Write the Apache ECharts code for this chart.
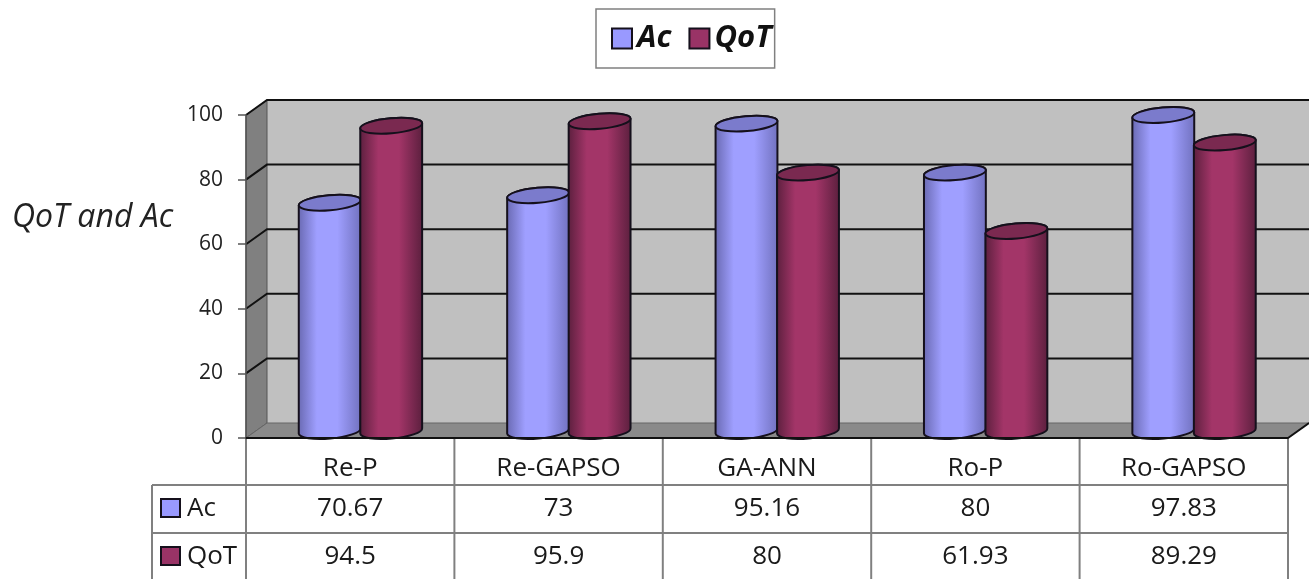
<!DOCTYPE html>
<html>
<head>
<meta charset="utf-8">
<style>html,body{margin:0;padding:0;background:#fff}#chart{width:1309px;height:579px}</style>
<script src="https://cdn.jsdelivr.net/npm/echarts@6/dist/echarts.min.js"></script>
</head>
<body>
<div id="chart"></div>
<script>
const categories = ['Re-P', 'Re-GAPSO', 'GA-ANN', 'Ro-P', 'Ro-GAPSO'];
const acValues = [70.67, 73, 95.16, 80, 97.83];
const qotValues = [94.5, 95.9, 80, 61.93, 89.29];
const yTicks = [0, 20, 40, 60, 80, 100];

const FONT = '"Open Sans", sans-serif';
const DEPTH_X = 21, DEPTH_Y = 15;      // offset of the back wall from the axis plane
const RY = 7.5, TILT = -5;             // cylinder cap ellipse

const chart = echarts.init(document.getElementById('chart'), null, { renderer: 'canvas' });

function hGradient(edgeL, mid, edgeR) {
  return new echarts.graphic.LinearGradient(0, 0, 1, 0, [
    { offset: 0, color: edgeL }, { offset: 0.3, color: mid },
    { offset: 0.62, color: mid }, { offset: 1, color: edgeR }
  ]);
}

// Side walls, floor and the grid lines that run across them
function renderRoom(params, api) {
  if (params.dataIndex !== 0) return;
  const c = params.coordSys;
  const x0 = c.x, x1 = c.x + c.width, yTop = c.y, yBase = c.y + c.height;
  const bx0 = x0 + DEPTH_X, bx1 = x1 + DEPTH_X;
  const children = [
    { type: 'polygon', shape: { points: [[bx0, yTop - DEPTH_Y], [bx1, yTop - DEPTH_Y], [bx1, yBase - DEPTH_Y], [bx0, yBase - DEPTH_Y]] },
      style: { fill: '#c0c0c0' } },
    { type: 'polygon', shape: { points: [[x0, yTop], [bx0, yTop - DEPTH_Y], [bx0, yBase - DEPTH_Y], [x0, yBase]] },
      style: { fill: '#808080', stroke: '#555', lineWidth: 1 } },
    { type: 'polygon', shape: { points: [[x0, yBase], [bx0, yBase - DEPTH_Y], [bx1, yBase - DEPTH_Y], [x1, yBase]] },
      style: { fill: '#8a8a8a', stroke: '#666', lineWidth: 1 } }
  ];
  yTicks.slice(1).forEach(v => {
    const y = api.coord([0, v])[1];
    children.push({ type: 'polyline',
      shape: { points: [[x0, y], [bx0, y - DEPTH_Y], [bx1, y - DEPTH_Y]] },
      style: { fill: null, stroke: '#111', lineWidth: 2 } });
  });
  children.push({ type: 'line', shape: { x1: x1, y1: yBase, x2: bx1, y2: yBase - DEPTH_Y },
    style: { stroke: '#111', lineWidth: 2 } });
  return { type: 'group', children };
}

function cylinderRenderer(side, body, capFill) {
  return function (params, api) {
    const cat = api.value(0);
    const band = api.size([1, 0])[0];
    const rx = band * 0.149;
    const base = api.coord([cat, 0]);
    const top = api.coord([cat, api.value(1)]);
    const cx = base[0] + DEPTH_X / 2 + (side < 0 ? -31 : 30.5) * band / 208.4;
    const by = base[1] - DEPTH_Y / 2 + 0.5;
    const ty = top[1] - DEPTH_Y / 2 + 0.5;
    const rad = TILT * Math.PI / 180;
    const dx = rx * Math.cos(rad), dy = rx * Math.sin(rad);
    const arc = `A ${rx} ${RY} ${TILT} 0 0`;
    const bodyPath = `M ${cx - dx} ${ty - dy} L ${cx - dx} ${by - dy} ${arc} ${cx + dx} ${by + dy} ` +
      `L ${cx + dx} ${ty + dy} ${arc} ${cx - dx} ${ty - dy} Z`;
    const capPath = `M ${cx - dx} ${ty - dy} ${arc} ${cx + dx} ${ty + dy} ${arc} ${cx - dx} ${ty - dy} Z`;
    return { type: 'group', children: [
      { type: 'path', shape: { pathData: bodyPath }, style: { fill: body, stroke: '#15101c', lineWidth: 2 } },
      { type: 'path', shape: { pathData: capPath }, style: { fill: capFill, stroke: '#15101c', lineWidth: 2 } }
    ] };
  };
}

// Data table under the plot; column positions follow the category axis
function renderTable(params, api) {
  if (params.dataIndex !== 0) return;
  const c = params.coordSys;
  const x0 = c.x, x1 = c.x + c.width, yBase = c.y + c.height;
  const labelX = x0 - 94;
  const rowA = yBase + 47, rowB = yBase + 95, end = 579;
  const stroke = { stroke: '#808080', lineWidth: 2 };
  const line = (a, b, d, e) => ({ type: 'line', shape: { x1: a, y1: b, x2: d, y2: e }, style: stroke });
  const children = [
    line(labelX, rowA, x1, rowA), line(labelX, rowB, x1, rowB),
    line(labelX, rowA, labelX, end), line(x1, yBase, x1, end)
  ];
  const band = c.width / categories.length;
  for (let i = 0; i < categories.length; i++) children.push(line(x0 + band * i, yBase, x0 + band * i, end));
  const text = (s, x, y, align) => ({ type: 'text', style: {
    text: s, x, y, align, verticalAlign: 'middle', fill: '#1a1a1a', font: '26px ' + FONT } });
  const swatch = (y, fill) => ({ type: 'rect', shape: { x: labelX + 9, y: y - 9, width: 19, height: 18 },
    style: { fill, stroke: '#15101c', lineWidth: 2 } });
  children.push(swatch(rowA + 23, '#9999ff'), text('Ac', labelX + 35, rowA + 24, 'left'));
  children.push(swatch(rowB + 23, '#993366'), text('QoT', labelX + 35, rowB + 24, 'left'));
  categories.forEach((name, i) => {
    const x = api.coord([i, 0])[0];
    children.push(text(String(acValues[i]), x, rowA + 24, 'center'));
    children.push(text(String(qotValues[i]), x, rowB + 24, 'center'));
  });
  return { type: 'group', children };
}

chart.setOption({
  animation: false,
  backgroundColor: '#fff',
  title: {
    text: 'QoT and Ac', left: 12, top: 202, padding: 0,
    textStyle: { fontFamily: FONT, fontStyle: 'italic', fontWeight: 'normal', fontSize: 32, color: '#222' }
  },
  legend: {
    left: 596, top: 9, padding: [13, 3, 13, 15], itemGap: 17, itemWidth: 20, itemHeight: 20,
    borderColor: '#808080', borderWidth: 1.5, backgroundColor: '#fff',
    textStyle: { fontFamily: FONT, fontStyle: 'italic', fontWeight: 'bold', fontSize: 31, color: '#111', lineHeight: 33 },
    data: [
      { name: 'Ac', icon: 'rect', itemStyle: { color: '#9999ff', borderColor: '#15101c', borderWidth: 2 } },
      { name: 'QoT', icon: 'rect', itemStyle: { color: '#993366', borderColor: '#15101c', borderWidth: 2 } }
    ]
  },
  grid: { left: 246, right: 21, top: 115, bottom: 141 },
  xAxis: {
    type: 'category', data: categories, boundaryGap: true,
    axisTick: { show: false },
    axisLine: { lineStyle: { color: '#111', width: 2 } },
    axisLabel: { fontFamily: FONT, fontSize: 26, color: '#1a1a1a', margin: 18, interval: 0 },
    z: 5
  },
  yAxis: {
    type: 'value', min: 0, max: 100, interval: 20,
    splitLine: { show: false },
    axisLine: { show: true, lineStyle: { color: '#555', width: 1.5 } },
    axisTick: { show: true, length: 8, lineStyle: { color: '#555', width: 1.5 } },
    axisLabel: { fontFamily: FONT, fontSize: 21, color: '#222', margin: 23, padding: [3, 0, 0, 0] },
    z: 5
  },
  series: [
    { type: 'custom', name: 'room', silent: true, z: 1, renderItem: renderRoom, data: [[0, 0]], encode: { x: 0, y: 1 } },
    { type: 'custom', name: 'Ac', z: 2, itemStyle: { color: '#9999ff' },
      renderItem: cylinderRenderer(-1, hGradient('#6868b0', '#9f9fff', '#7070bd'), '#7b7bcc'),
      data: acValues.map((v, i) => [i, v]), encode: { x: 0, y: 1 } },
    { type: 'custom', name: 'QoT', z: 3, itemStyle: { color: '#993366' },
      renderItem: cylinderRenderer(1, hGradient('#5a1f3d', '#a33568', '#5a1f3d'), '#7a2950'),
      data: qotValues.map((v, i) => [i, v]), encode: { x: 0, y: 1 } },
    { type: 'custom', name: 'table', silent: true, z: 4, renderItem: renderTable, data: [[0, 0]], encode: { x: 0, y: 1 } }
  ]
});
</script>
</body>
</html>
